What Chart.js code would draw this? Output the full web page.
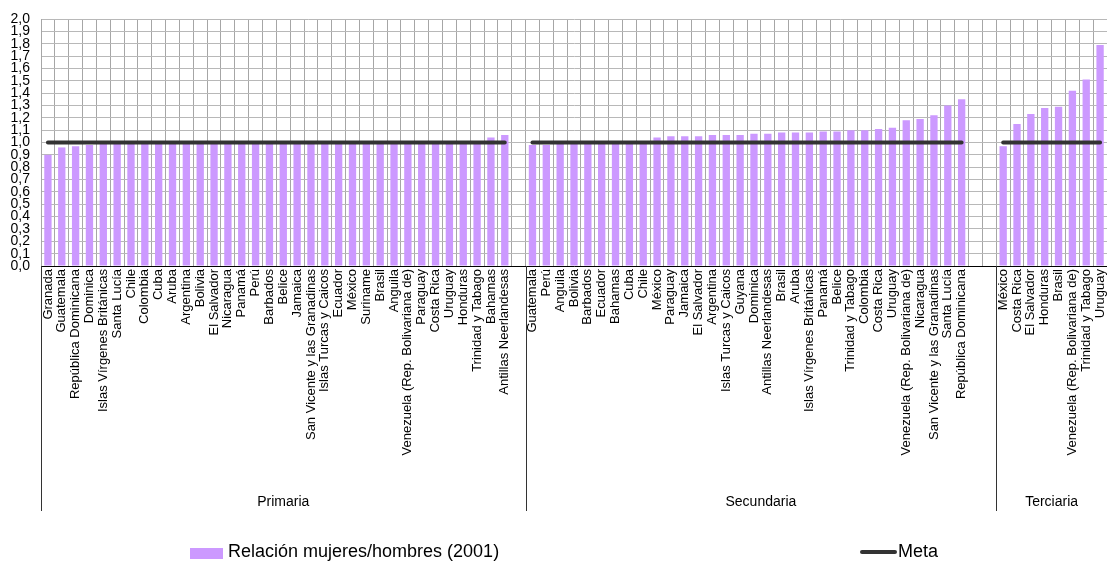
<!DOCTYPE html>
<html>
<head>
<meta charset="utf-8">
<script src="https://cdn.jsdelivr.net/npm/chart.js@4/dist/chart.umd.min.js"></script>
<style>
  html, body { margin: 0; padding: 0; background: #fff; }
  #wrap { width: 1107px; height: 562px; }
</style>
</head>
<body>
<div id="wrap"><canvas id="grafico"></canvas></div>
<script>
/*
Datos: relacion mujeres/hombres por nivel de ensenanza (2001)
*/
const primariaPaises = ["Granada", "Guatemala", "República Dominicana", "Dominica", "Islas Vírgenes Británicas",
    "Santa Lucía", "Chile", "Colombia", "Cuba", "Aruba", "Argentina", "Bolivia", "El Salvador", "Nicaragua",
    "Panamá", "Perú", "Barbados", "Belice", "Jamaica", "San Vicente y las Granadinas", "Islas Turcas y Caicos",
    "Ecuador", "México", "Suriname", "Brasil", "Anguila", "Venezuela (Rep. Bolivariana de)", "Paraguay",
    "Costa Rica", "Uruguay", "Honduras", "Trinidad y Tabago", "Bahamas", "Antillas Neerlandesas"];
const primariaValores = [0.90, 0.96, 0.97, 0.98, 0.99, 0.99, 0.99, 0.99, 0.99, 0.99, 0.99, 0.99, 0.99, 0.99,
    0.99, 0.99, 0.99, 1.00, 1.00, 1.00, 1.00, 1.00, 1.00, 1.00, 1.00, 1.00, 1.00, 1.00,
    1.00, 1.00, 1.01, 1.01, 1.04, 1.06];

const secundariaPaises = ["Guatemala", "Perú", "Anguila", "Bolivia", "Barbados", "Ecuador", "Bahamas", "Cuba",
    "Chile", "México", "Paraguay", "Jamaica", "El Salvador", "Argentina", "Islas Turcas y Caicos", "Guyana",
    "Dominica", "Antillas Neerlandesas", "Brasil", "Aruba", "Islas Vírgenes Británicas", "Panamá", "Belice",
    "Trinidad y Tabago", "Colombia", "Costa Rica", "Uruguay", "Venezuela (Rep. Bolivariana de)", "Nicaragua",
    "San Vicente y las Granadinas", "Santa Lucía", "República Dominicana"];
const secundariaValores = [0.98, 0.98, 0.99, 0.99, 0.99, 1.00, 1.00, 1.00,
    1.00, 1.04, 1.05, 1.05, 1.05, 1.06, 1.06, 1.06,
    1.07, 1.07, 1.08, 1.08, 1.08, 1.09, 1.09,
    1.10, 1.10, 1.11, 1.12, 1.18, 1.19,
    1.22, 1.30, 1.35];

const terciariaPaises = ["México", "Costa Rica", "El Salvador", "Honduras", "Brasil",
    "Venezuela (Rep. Bolivariana de)", "Trinidad y Tabago", "Uruguay"];
const terciariaValores = [0.97, 1.15, 1.23, 1.28, 1.29, 1.42, 1.51, 1.79];

const meta = 1.0;
const nombresNiveles = ["Primaria", "Secundaria", "Terciaria"];
const espaciosTras = [1, 2, 0];   // categorias vacias despues de cada nivel

/*
Construir categorias y series
*/
const niveles = [
    { paises: primariaPaises, valores: primariaValores },
    { paises: secundariaPaises, valores: secundariaValores },
    { paises: terciariaPaises, valores: terciariaValores },
];

const etiquetas = [];
const barras = [];
const lineaMeta = [];
const grupos = [];

niveles.forEach((nivel, i) => {
    const inicio = etiquetas.length;
    nivel.paises.forEach((pais, j) => {
        etiquetas.push(pais);
        barras.push(nivel.valores[j]);
        lineaMeta.push(meta);
    });
    for (let k = 0; k < espaciosTras[i]; k++) {
        etiquetas.push("");
        barras.push(null);
        lineaMeta.push(null);
    }
    grupos.push({ nombre: nombresNiveles[i], inicio: inicio, fin: etiquetas.length - 1 });
});

const FUENTE = "'Liberation Sans', Arial, Helvetica, sans-serif";
const MORADO = "#CC99FF";
const OSCURO = "#333333";

/*
Plugin: separadores y nombres de nivel bajo el eje, y leyenda
*/
const nivelesPlugin = {
    id: "niveles",
    afterDraw(chart) {
        const ctx = chart.ctx;
        const x = chart.scales.x;
        const area = chart.chartArea;
        const paso = x.getPixelForValue(1) - x.getPixelForValue(0);
        ctx.save();
        ctx.strokeStyle = "#333";
        ctx.lineWidth = 1;
        ctx.fillStyle = "#000";
        ctx.font = "14px " + FUENTE;
        ctx.textAlign = "center";
        ctx.textBaseline = "middle";
        grupos.forEach(g => {
            const izq = x.getPixelForValue(g.inicio) - paso / 2;
            const der = x.getPixelForValue(g.fin) + paso / 2;
            const xl = Math.round(izq) + 0.5;
            ctx.beginPath();
            ctx.moveTo(xl, area.bottom);
            ctx.lineTo(xl, 511);
            ctx.stroke();
            ctx.fillText(g.nombre, (izq + der) / 2, 502);
        });

        // leyenda
        const ds = chart.data.datasets;
        ctx.font = "18px " + FUENTE;
        ctx.textAlign = "left";
        ctx.fillStyle = ds[0].backgroundColor;
        ctx.fillRect(190, 548, 33, 11);
        ctx.fillStyle = "#000";
        ctx.fillText(ds[0].label, 228, 552);

        ctx.strokeStyle = ds[1].borderColor;
        ctx.lineWidth = 4;
        ctx.lineCap = "round";
        ctx.beginPath();
        ctx.moveTo(862, 552);
        ctx.lineTo(895, 552);
        ctx.stroke();
        ctx.fillText(ds[1].label, 898, 552);
        ctx.restore();
    }
};

const ctx = document.getElementById("grafico").getContext("2d");
const chart = new Chart(ctx, {
    type: "bar",
    data: {
        labels: etiquetas,
        datasets: [
            {
                type: "bar",
                label: "Relación mujeres/hombres (2001)",
                data: barras,
                backgroundColor: MORADO,
                borderWidth: 0,
                barPercentage: 0.53,
                categoryPercentage: 1.0,
                order: 1,
            },
            {
                type: "line",
                label: "Meta",
                data: lineaMeta,
                borderColor: OSCURO,
                borderWidth: 4,
                borderCapStyle: "round",
                pointRadius: 0,
                spanGaps: false,
                fill: false,
                order: 0,
            },
        ]
    },
    options: {
        responsive: true,
        maintainAspectRatio: false,
        animation: false,
        layout: {
            autoPadding: false,
            padding: { top: 19, left: 0, right: 0, bottom: 0 }
        },
        plugins: {
            legend: { display: false },
            tooltip: { enabled: false },
        },
        scales: {
            x: {
                type: "category",
                offset: true,
                grid: {
                    offset: true,
                    color: "#a6a6a6",
                    drawTicks: false,
                },
                border: { display: true, color: "#000", width: 1 },
                ticks: {
                    autoSkip: false,
                    minRotation: 90,
                    maxRotation: 90,
                    padding: 3,
                    color: "#000",
                    font: { family: FUENTE, size: 13 },
                },
                afterFit: (scale) => {
                    scale.height = 296;
                    scale.paddingLeft = 0;
                    scale.paddingRight = 0;
                },
            },
            y: {
                min: 0,
                max: 2,
                grid: {
                    color: "#b8b8b8",
                    drawTicks: false,
                },
                border: { display: true, color: "#a6a6a6" },
                ticks: {
                    stepSize: 0.1,
                    autoSkip: false,
                    padding: 11,
                    color: "#000",
                    font: { family: FUENTE, size: 14 },
                    callback: (v) => v.toFixed(1).replace(".", ","),
                },
                afterFit: (scale) => {
                    scale.width = 41;
                    scale.paddingTop = 0;
                    scale.paddingBottom = 0;
                },
            }
        }
    },
    plugins: [nivelesPlugin]
});
</script>
</body>
</html>
